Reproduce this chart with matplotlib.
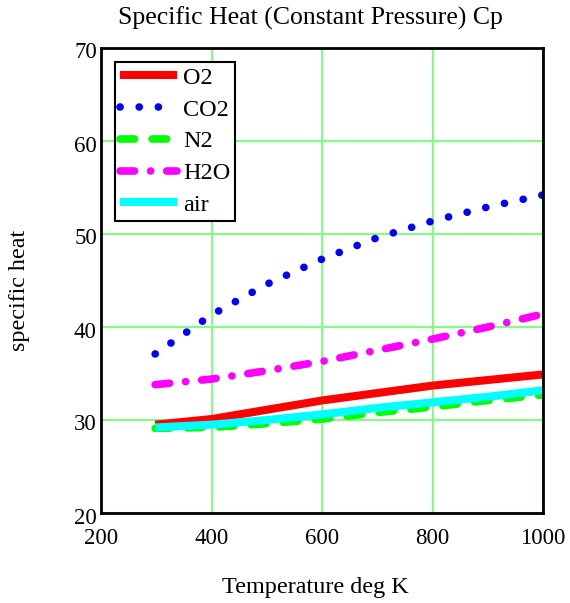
import matplotlib
matplotlib.use("Agg")
import matplotlib.pyplot as plt
import matplotlib.transforms as mtransforms

T = [298, 400, 500, 600, 700, 800, 900, 1000]
cp_O2 = [29.5, 30.1, 31.1, 32.1, 32.9, 33.7, 34.3, 34.9]
cp_CO2 = [37.1, 41.3, 44.6, 47.3, 49.6, 51.4, 52.9, 54.2]
cp_N2 = [29.1, 29.2, 29.6, 30.1, 30.8, 31.4, 32.1, 32.7]
cp_H2O = [33.8, 34.4, 35.3, 36.3, 37.5, 38.7, 40.0, 41.4]
cp_air = [29.2, 29.5, 30.0, 30.6, 31.3, 31.9, 32.5, 33.2]

xticks = [200, 400, 600, 800, 1000]
yticks = [20, 30, 40, 50, 60, 70]

plt.rcParams['font.family'] = ['Liberation Serif', 'DejaVu Serif']

W, H = 570, 603
fig = plt.figure(figsize=(W / 100, H / 100), dpi=100)
L, R, Tp, B = 101, 543, 48, 513
ax = fig.add_axes([L / W, 1 - B / H, (R - L) / W, (B - Tp) / H])

ax.plot(T, cp_O2, color='#ff0000', lw=5.8, solid_capstyle='butt', label='O2')
ax.plot(T, cp_CO2, color='#0000ff', lw=5.5, linestyle=(0, (0.01, 2.5)),
        dash_capstyle='round', label='CO2')
ax.plot(T, cp_N2, color='#00ff00', lw=5.5, linestyle=(0, (1.9, 2.3)),
        dash_capstyle='round', label='N2')
ax.plot(T, cp_H2O, color='#ff00ff', lw=5.5, linestyle=(0, (1.9, 2.1, 0.01, 2.1)),
        dash_capstyle='round', label='H2O')
ax.plot(T, cp_air, color='#00ffff', lw=5.8, solid_capstyle='butt', label='air')

ax.set_xlim(200, 1000)
ax.set_ylim(20, 70)
ax.set_xticks(xticks)
ax.set_yticks(yticks)
ax.grid(True, color='#80ff80', lw=1.5)
ax.set_axisbelow(True)
for s in ax.spines.values():
    s.set_linewidth(2)
    s.set_color('black')
ax.tick_params(axis='both', length=0, labelsize=16.5)
ax.tick_params(axis='x', pad=11)
ax.tick_params(axis='y', pad=3)
off = mtransforms.ScaledTranslation(0, -2.5 / 100, fig.dpi_scale_trans)
for lab in ax.get_yticklabels():
    lab.set_transform(lab.get_transform() + off)

fig.text(310 / W, 1 - 18 / H, 'Specific Heat (Constant Pressure) Cp',
         ha='center', va='center', fontsize=18.5)
fig.text(315 / W, 1 - 588 / H, 'Temperature deg K', ha='center', va='center', fontsize=17.4)
fig.text(20 / W, 1 - 290 / H, 'specific heat', ha='center', va='center',
         rotation=90, fontsize=17.4)

leg = ax.legend(loc='upper left',
                bbox_to_anchor=((115 - L) / (R - L), (B - 62) / (B - Tp)),
                borderaxespad=0, borderpad=0.2, handlelength=2.35,
                handletextpad=0.25, labelspacing=0.4, fancybox=False,
                framealpha=1, edgecolor='black', fontsize=17.5)
leg.get_frame().set_linewidth(1.5)

fig.savefig('out.png', dpi=100)
